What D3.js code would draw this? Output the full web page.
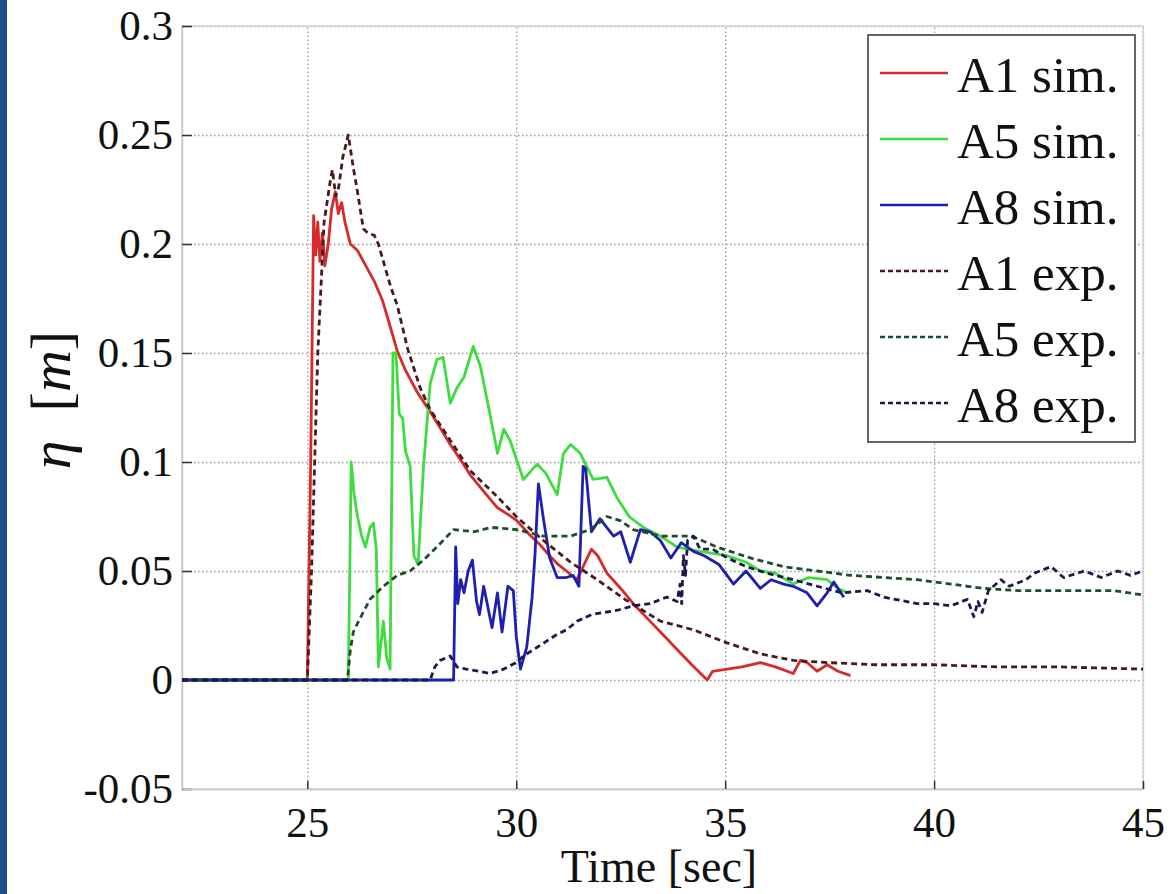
<!DOCTYPE html>
<html>
<head>
<meta charset="utf-8">
<script src="https://cdn.jsdelivr.net/npm/d3@7/dist/d3.min.js"></script>
<style>
  body { margin: 0; background: #fff; }
  text { font-family: "Liberation Serif", "Times New Roman", serif; fill: #111; }
</style>
</head>
<body>
<svg id="chart"></svg>
<script>
// tick values / labels
var xTicks = [25, 30, 35, 40, 45];
var yTicks = [-0.05, 0, 0.05, 0.1, 0.15, 0.2, 0.25, 0.3];
var yTickLabels = ["-0.05", "0", "0.05", "0.1", "0.15", "0.2", "0.25", "0.3"];
var legendNames = ["A1 sim.", "A5 sim.", "A8 sim.", "A1 exp.", "A5 exp.", "A8 exp."];

// series: [time, eta]
var a1Sim = [[22,0],[25.0,0],[25.08,0.1],[25.15,0.213],[25.2,0.195],[25.25,0.21],[25.3,0.192],[25.36,0.205],[25.42,0.19],[25.5,0.2],[25.58,0.216],[25.67,0.224],[25.74,0.214],[25.82,0.219],[25.9,0.21],[26.03,0.2],[26.2,0.197],[26.4,0.19],[26.6,0.183],[26.8,0.174],[27.0,0.161],[27.15,0.151],[27.35,0.142],[27.63,0.132],[27.94,0.123],[28.2,0.115],[28.42,0.108],[28.7,0.1],[28.9,0.094],[29.2,0.087],[29.55,0.079],[29.8,0.076],[30.02,0.073],[30.3,0.067],[30.57,0.062],[30.8,0.057],[31.0,0.053],[31.2,0.05],[31.45,0.046],[31.6,0.052],[31.8,0.06],[31.95,0.057],[32.17,0.049],[32.5,0.042],[32.8,0.035],[33.2,0.027],[33.6,0.019],[33.9,0.013],[34.2,0.007],[34.57,0.0],[34.7,0.004],[35.05,0.005],[35.4,0.006],[35.84,0.008],[36.2,0.006],[36.63,0.003],[36.8,0.009],[36.96,0.008],[37.2,0.004],[37.44,0.007],[37.7,0.004],[38.0,0.002]];

var a5Sim = [[22,0],[25.98,0],[26.05,0.1],[26.12,0.085],[26.2,0.075],[26.3,0.066],[26.39,0.061],[26.5,0.07],[26.58,0.072],[26.65,0.06],[26.7,0.006],[26.82,0.027],[26.9,0.01],[26.98,0.005],[27.05,0.15],[27.12,0.15],[27.2,0.122],[27.28,0.12],[27.35,0.105],[27.46,0.098],[27.55,0.057],[27.65,0.053],[27.78,0.098],[27.94,0.136],[28.1,0.147],[28.25,0.148],[28.42,0.127],[28.58,0.134],[28.75,0.139],[28.97,0.153],[29.14,0.144],[29.38,0.121],[29.55,0.104],[29.7,0.115],[29.85,0.11],[30.17,0.092],[30.5,0.099],[30.7,0.095],[30.98,0.085],[31.13,0.104],[31.3,0.108],[31.53,0.104],[31.84,0.092],[32.17,0.093],[32.4,0.084],[32.7,0.075],[33.04,0.07],[33.45,0.066],[33.85,0.061],[34.4,0.059],[35.05,0.057],[35.5,0.054],[35.84,0.05],[36.2,0.049],[36.63,0.044],[37.0,0.047],[37.44,0.046],[37.7,0.042],[37.92,0.04]];

var a8Sim = [[22,0],[28.5,0],[28.55,0.061],[28.6,0.035],[28.67,0.046],[28.75,0.04],[28.85,0.05],[28.95,0.055],[29.05,0.036],[29.12,0.03],[29.22,0.043],[29.42,0.024],[29.55,0.04],[29.66,0.022],[29.8,0.043],[29.93,0.041],[30.0,0.02],[30.1,0.005],[30.25,0.015],[30.38,0.038],[30.45,0.058],[30.53,0.09],[30.65,0.074],[30.8,0.056],[30.98,0.047],[31.2,0.047],[31.36,0.048],[31.5,0.043],[31.6,0.098],[31.66,0.097],[31.8,0.068],[32.0,0.074],[32.33,0.066],[32.5,0.068],[32.73,0.054],[32.97,0.069],[33.2,0.068],[33.45,0.064],[33.7,0.056],[33.95,0.063],[34.24,0.059],[34.5,0.057],[34.85,0.053],[35.2,0.044],[35.5,0.05],[35.84,0.042],[36.1,0.046],[36.4,0.044],[36.63,0.043],[36.96,0.04],[37.2,0.034],[37.44,0.04],[37.6,0.045],[37.84,0.038]];

var a1Exp = [[22,0],[25.0,0],[25.1,0.05],[25.25,0.15],[25.4,0.21],[25.55,0.229],[25.6,0.234],[25.68,0.222],[25.75,0.226],[25.85,0.24],[25.98,0.25],[26.1,0.235],[26.2,0.224],[26.34,0.207],[26.45,0.205],[26.6,0.204],[26.7,0.2],[26.85,0.19],[27.0,0.18],[27.15,0.172],[27.4,0.152],[27.7,0.134],[27.94,0.124],[28.35,0.112],[28.9,0.096],[29.55,0.084],[30.0,0.075],[30.65,0.064],[31.3,0.054],[31.94,0.046],[32.6,0.037],[33.45,0.027],[34.24,0.023],[35.05,0.017],[35.84,0.012],[36.63,0.009],[37.44,0.008],[38.6,0.007],[40,0.007],[41.5,0.006],[43,0.006],[45,0.005]];

var a5Exp = [[22,0],[25.96,0],[26.03,0.014],[26.1,0.022],[26.2,0.026],[26.5,0.037],[26.82,0.043],[27.15,0.048],[27.46,0.05],[27.78,0.055],[28.1,0.061],[28.5,0.069],[29.0,0.068],[29.4,0.07],[30.0,0.069],[30.65,0.066],[31.3,0.066],[31.77,0.069],[32.17,0.075],[32.5,0.073],[32.8,0.069],[33.45,0.066],[34.2,0.066],[34.8,0.061],[35.6,0.056],[36.4,0.052],[37.2,0.05],[38.0,0.048],[38.8,0.047],[39.6,0.046],[40.4,0.044],[41.2,0.042],[42.0,0.041],[42.8,0.041],[43.6,0.041],[44.3,0.041],[45,0.039]];

var a8Exp = [[22,0],[27.94,0],[28.05,0.006],[28.18,0.009],[28.42,0.011],[28.58,0.006],[28.8,0.005],[29.1,0.004],[29.38,0.003],[29.7,0.005],[30.0,0.008],[30.17,0.011],[30.5,0.015],[30.98,0.021],[31.2,0.023],[31.46,0.027],[31.8,0.03],[32.1,0.031],[32.42,0.032],[32.8,0.034],[33.2,0.035],[33.6,0.038],[33.85,0.036],[33.92,0.044],[33.96,0.035],[34.0,0.057],[34.05,0.048],[34.1,0.064],[34.24,0.066],[34.4,0.06],[34.7,0.06],[35.05,0.056],[35.5,0.052],[36.0,0.049],[36.63,0.046],[37.2,0.043],[37.8,0.04],[38.4,0.041],[38.8,0.038],[39.6,0.035],[40.0,0.035],[40.4,0.034],[40.8,0.037],[40.95,0.029],[41.05,0.036],[41.15,0.031],[41.3,0.041],[41.6,0.046],[41.8,0.043],[42.2,0.046],[42.4,0.049],[42.8,0.052],[43.1,0.047],[43.6,0.05],[44.0,0.047],[44.4,0.05],[44.7,0.048],[45,0.05]];

var W = 1173, H = 894;
var margin = {top: 26, right: 30, bottom: 105, left: 182};
var innerW = W - margin.left - margin.right;
var innerH = H - margin.top - margin.bottom;

var svg = d3.select("#chart").attr("width", W).attr("height", H);
svg.append("rect").attr("width", W).attr("height", H).attr("fill", "#fff");
// blue strip on the left edge
svg.append("rect").attr("x", 0).attr("y", 0).attr("width", 7).attr("height", H).attr("fill", "#1f4e89");

var g = svg.append("g").attr("transform", "translate(" + margin.left + "," + margin.top + ")");

var x = d3.scaleLinear().domain([22, 45]).range([0, innerW]);
var y = d3.scaleLinear().domain([-0.05, 0.3]).range([innerH, 0]);

// grid
g.append("g").attr("class", "grid")
    .call(d3.axisLeft(y).tickValues(yTicks).tickSize(-innerW).tickFormat(""))
    .call(function (s) { s.select(".domain").remove(); });
g.append("g").attr("class", "grid")
    .attr("transform", "translate(0," + innerH + ")")
    .call(d3.axisBottom(x).tickValues(xTicks).tickSize(-innerH).tickFormat(""))
    .call(function (s) { s.select(".domain").remove(); });
g.selectAll(".grid line").attr("stroke", "#999").attr("stroke-width", 1.3)
    .attr("stroke-dasharray", "1.5,2.5");

// box
g.append("rect").attr("width", innerW).attr("height", innerH)
    .attr("fill", "none").attr("stroke", "#d2d2d2").attr("stroke-width", 1.5);

// axes
var yAxis = g.append("g")
    .call(d3.axisLeft(y).tickValues(yTicks).tickSizeInner(-10).tickSizeOuter(0).tickPadding(9)
        .tickFormat(function (d, i) { return yTickLabels[i]; }));
var xAxis = g.append("g").attr("transform", "translate(0," + innerH + ")")
    .call(d3.axisBottom(x).tickValues(xTicks).tickSizeInner(-8).tickSizeOuter(0).tickPadding(17)
        .tickFormat(d3.format("d")));
[yAxis, xAxis].forEach(function (a) {
    a.select(".domain").attr("stroke", "#c8c8c8").attr("stroke-width", 1.5);
    a.selectAll(".tick line").attr("stroke", "#333").attr("stroke-width", 1.5);
    a.selectAll(".tick text").attr("font-family", "Liberation Serif, Times New Roman, serif")
        .attr("font-size", 43).attr("fill", "#151515");
});

// axis labels
svg.append("text").attr("x", 659).attr("y", 882).attr("text-anchor", "middle")
    .attr("font-size", 46).text("Time [sec]");
var yl = svg.append("text").attr("transform", "translate(70,400) rotate(-90)")
    .attr("text-anchor", "middle").attr("font-size", 58);
yl.append("tspan").attr("font-style", "italic").text("η");
yl.append("tspan").text("\u2002[");
yl.append("tspan").attr("font-style", "italic").text("m");
yl.append("tspan").text("]");

// lines
g.append("clipPath").attr("id", "clip").append("rect").attr("width", innerW).attr("height", innerH);
var line = d3.line().x(function (d) { return x(d[0]); }).y(function (d) { return y(d[1]); });

var series = [
    {name: legendNames[0], data: a1Sim, color: "#d42b2b", dash: null},
    {name: legendNames[1], data: a5Sim, color: "#3fdc3f", dash: null},
    {name: legendNames[2], data: a8Sim, color: "#1f1fb0", dash: null},
    {name: legendNames[3], data: a1Exp, color: "#4a1a1a", dash: "6,4"},
    {name: legendNames[4], data: a5Exp, color: "#1f4d28", dash: "6,4"},
    {name: legendNames[5], data: a8Exp, color: "#1a1a4f", dash: "6,4"}
];

var plot = g.append("g").attr("clip-path", "url(#clip)");
series.forEach(function (s) {
    plot.append("path").datum(s.data)
        .attr("d", line)
        .attr("fill", "none")
        .attr("stroke", s.color)
        .attr("stroke-width", 2.8)
        .attr("stroke-linejoin", "round")
        .attr("stroke-dasharray", s.dash);
});

// legend
var lg = svg.append("g").attr("transform", "translate(868,35)");
lg.append("rect").attr("width", 267).attr("height", 407)
    .attr("fill", "#fff").attr("stroke", "#555").attr("stroke-width", 1.8);
series.forEach(function (s, i) {
    var cy = 38 + i * 66;
    lg.append("line").attr("x1", 12).attr("x2", 80).attr("y1", cy).attr("y2", cy)
        .attr("stroke", s.color).attr("stroke-width", 2.5)
        .attr("stroke-dasharray", s.dash ? "5,3" : null);
    lg.append("text").attr("x", 89).attr("y", cy + 19).attr("font-size", 51).text(s.name);
});
</script>
</body>
</html>
